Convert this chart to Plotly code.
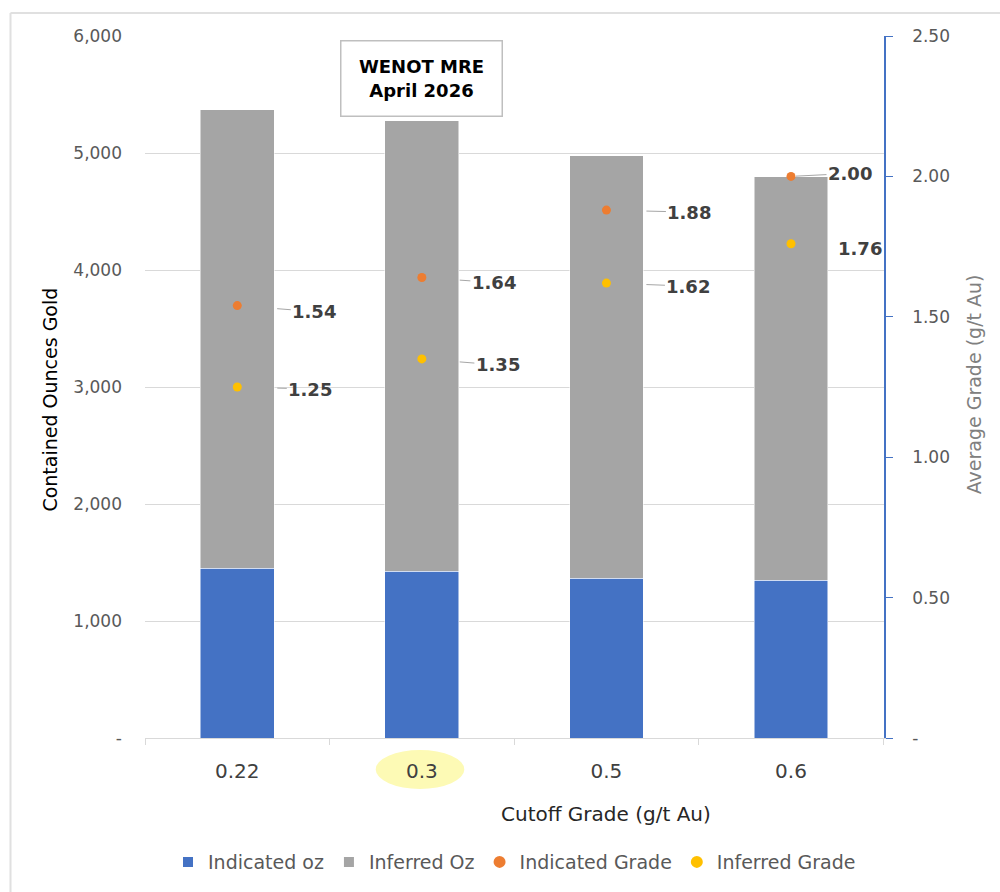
import plotly.graph_objects as go

# Cutoff grade scenarios (g/t Au)
cutoffs = ["0.22", "0.3", "0.5", "0.6"]

# Contained ounces by resource category
indicated_oz = [1450, 1425, 1365, 1348]
inferred_oz = [3920, 3850, 3610, 3450]

# Average grade (g/t Au)
indicated_grade = [1.54, 1.64, 1.88, 2.00]
inferred_grade = [1.25, 1.35, 1.62, 1.76]

left_ticks = [0, 1000, 2000, 3000, 4000, 5000, 6000]
left_ticktext = ["-", "1,000", "2,000", "3,000", "4,000", "5,000", "6,000"]
right_ticks = [0, 0.5, 1.0, 1.5, 2.0, 2.5]
right_ticktext = ["-", "0.50", "1.00", "1.50", "2.00", "2.50"]

FONT = "'DejaVu Sans', sans-serif"
BLUE = "#4472c4"
GRAY = "#a5a5a5"
ORANGE = "#ed7d31"
GOLD = "#ffc000"

fig = go.Figure()
fig.add_trace(go.Bar(x=cutoffs, y=indicated_oz, name="Indicated oz",
                     marker=dict(color=BLUE, line=dict(color="#ffffff", width=0.5)),
                     width=0.4))
fig.add_trace(go.Bar(x=cutoffs, y=inferred_oz, name="Inferred Oz",
                     marker=dict(color=GRAY, line=dict(color="#ffffff", width=0.5)),
                     width=0.4))
fig.add_trace(go.Scatter(x=cutoffs, y=indicated_grade, name="Indicated Grade",
                         mode="markers", yaxis="y2",
                         marker=dict(color=ORANGE, size=9)))
fig.add_trace(go.Scatter(x=cutoffs, y=inferred_grade, name="Inferred Grade",
                         mode="markers", yaxis="y2",
                         marker=dict(color=GOLD, size=9)))

# Grade labels: (pixel offset x, pixel offset y, leader-line standoff)
ind_offsets = [(77, 6, 40), (72, 5, 38), (83, 2, 40), (59, -3, 5)]
inf_offsets = [(73, 2, 40), (76, 6, 38), (82, 3, 40), (69, 5, 48)]

annotations = []
for vals, offs in ((indicated_grade, ind_offsets), (inferred_grade, inf_offsets)):
    for i, (v, (dx, dy, so)) in enumerate(zip(vals, offs)):
        annotations.append(dict(
            x=i, y=v, xref="x", yref="y2",
            text=f"<b>{v:.2f}</b>", showarrow=True, arrowhead=0,
            arrowwidth=1, arrowcolor="#a6a6a6", ax=dx, ay=dy, standoff=so,
            font=dict(family=FONT, size=18, color="#404040")))

annotations += [
    dict(text="<b>WENOT MRE</b><br><b>April 2026</b>", x=cutoffs.index("0.3"),
         xref="x", y=0.939, yref="paper", xanchor="center", yanchor="middle",
         showarrow=False, width=158, height=72,
         bordercolor="#bfbfbf", borderwidth=1.5, bgcolor="#ffffff",
         font=dict(family=FONT, size=18, color="#000000")),
    dict(text="Cutoff Grade (g/t Au)", x=0.624, y=-0.108, xref="paper",
         yref="paper", xanchor="center", yanchor="middle", showarrow=False,
         font=dict(family=FONT, size=20, color="#262626")),
    dict(text="Contained Ounces Gold", x=-0.1286, y=0.482, xref="paper",
         yref="paper", xanchor="center", yanchor="middle", showarrow=False,
         textangle=-90, font=dict(family=FONT, size=19, color="#000000")),
    dict(text="Average Grade (g/t Au)", x=1.123, y=0.5036, xref="paper",
         yref="paper", xanchor="center", yanchor="middle", showarrow=False,
         textangle=-90, font=dict(family=FONT, size=19, color="#808080")),
]

shapes = [
    # highlight behind the 0.3 cutoff label
    dict(type="circle", xref="x", yref="paper", x0=0.75, x1=1.23,
         y0=-0.0725, y1=-0.017, fillcolor="#fdfab5", line=dict(width=0),
         layer="below"),
    # sheet frame edges
    dict(type="line", xref="paper", yref="paper", x0=-0.182, x1=-0.182,
         y0=1.0327, y1=-0.22, line=dict(color="#e0e0e0", width=2)),
    dict(type="line", xref="paper", yref="paper", x0=-0.182, x1=1.16,
         y0=1.0327, y1=1.0327, line=dict(color="#e0e0e0", width=2)),
]

fig.update_layout(
    width=1000, height=892,
    margin=dict(l=145, r=116, t=36, b=153),
    paper_bgcolor="#ffffff", plot_bgcolor="#ffffff",
    barmode="stack", bargap=0.6,
    font=dict(family=FONT, size=17, color="#595959"),
    showlegend=True,
    legend=dict(orientation="h", x=0.5, xanchor="center", y=-0.175,
                yanchor="middle", font=dict(family=FONT, size=19, color="#595959"),
                itemsizing="constant", traceorder="normal"),
    xaxis=dict(type="category", showgrid=False, showline=True,
               linecolor="#d9d9d9", linewidth=1, ticks="outside",
               tickson="boundaries", ticklen=6, tickcolor="#d9d9d9",
               ticklabelstandoff=15,
               tickfont=dict(family=FONT, size=20, color="#404040")),
    yaxis=dict(range=[0, 6000], tickvals=left_ticks, ticktext=left_ticktext,
               showgrid=True, gridcolor="#d9d9d9", gridwidth=1,
               showline=False, zeroline=False, ticklabelstandoff=22,
               tickfont=dict(family=FONT, size=17, color="#595959")),
    yaxis2=dict(range=[0, 2.5], tickvals=right_ticks, ticktext=right_ticktext,
                overlaying="y", side="right", showgrid=False, zeroline=False,
                showline=True, linecolor=BLUE, linewidth=1.5,
                ticks="outside", ticklen=7, tickcolor=BLUE,
                ticklabelstandoff=16,
                tickfont=dict(family=FONT, size=17, color="#595959")),
    annotations=annotations,
    shapes=shapes,
)

fig.write_html("out.html")
